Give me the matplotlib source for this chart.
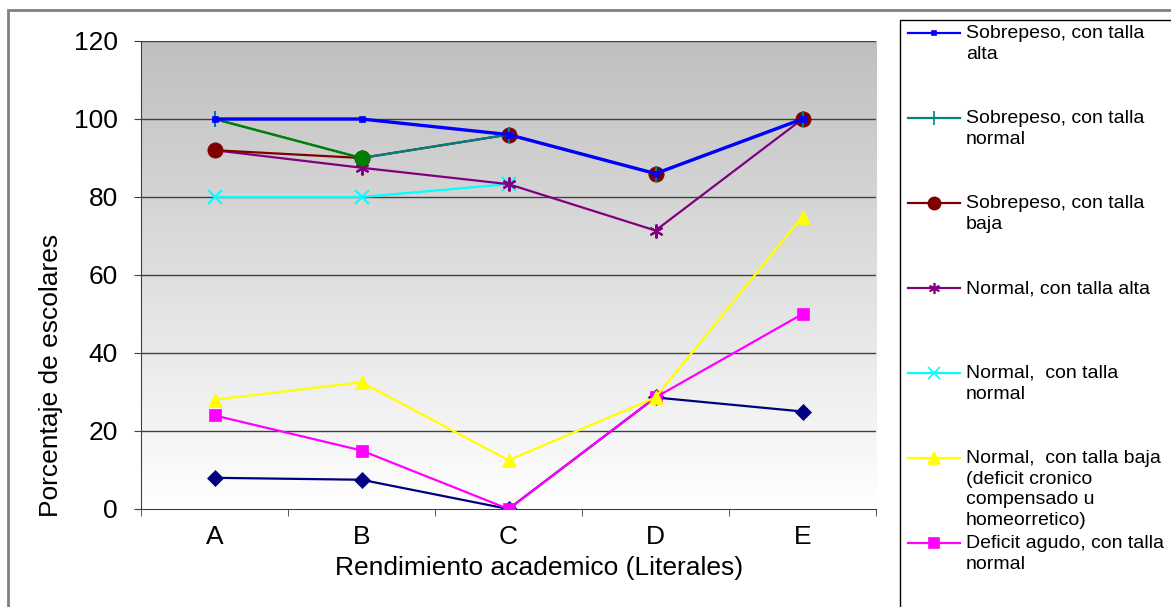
import numpy as np
import matplotlib
matplotlib.use("Agg")
from matplotlib import pyplot as plt
from matplotlib.lines import Line2D
from matplotlib.patches import Rectangle

plt.rcParams['font.family'] = ['Liberation Sans', 'DejaVu Sans']

categorias = ["A", "B", "C", "D", "E"]

sobrepeso_alta = [100, 100, 96, 86, 100]
sobrepeso_normal = [100, 90, 96, 86, 100]
sobrepeso_baja = [92, 90, 96, 86, 100]
normal_alta = [92, 87.5, 83.3, 71.4, 100]
normal_normal = [80, 80, 83.3, np.nan, np.nan]
normal_baja = [28, 32.5, 12.5, 28.6, 75]
deficit_agudo = [24, 15, 0, 28.6, 50]
deficit_otro = [8, 7.5, 0, 28.6, 25]
# tramo A-B resaltado en verde
tramo_verde = [100, 90, np.nan, np.nan, np.nan]

etiquetas = [
    "Sobrepeso, con talla\nalta",
    "Sobrepeso, con talla\nnormal",
    "Sobrepeso, con talla\nbaja",
    "Normal, con talla alta",
    "Normal,  con talla\nnormal",
    "Normal,  con talla baja\n(deficit cronico\ncompensado u\nhomeorretico)",
    "Deficit agudo, con talla\nnormal",
]

W, H = 1171, 607
fig = plt.figure(figsize=(W / 100, H / 100), dpi=100)

def fx(px):
    return px / W

def fy(py):
    return 1 - py / H

x0, x1, ytop, ybot = 141, 876, 41, 509
ax = fig.add_axes([fx(x0), fy(ybot), fx(x1 - x0), (ybot - ytop) / H])

# fondo degradado gris -> blanco
grad = np.linspace(0.75, 1.0, 256).reshape(-1, 1)
ax.imshow(np.dstack([grad, grad, grad]), extent=[0, 1, 0, 1], transform=ax.transAxes,
          aspect="auto", zorder=0, interpolation="bilinear")

x = np.arange(len(categorias))
series = [
    (normal_normal, "#00ffff", "x", 10, 1.6, 2),
    (normal_alta, "#800080", (6, 2, 0), 10, 1.6, 3),
    (sobrepeso_baja, "#800000", "o", 11, 1.6, 4),
    (sobrepeso_normal, "#008080", "|", 12, 1.6, 5),
    (sobrepeso_alta, "#0000ff", "s", 4, 2.4, 7),
    (deficit_otro, "#000080", "D", 8, 1.6, 2),
    (deficit_agudo, "#ff00ff", "s", 9, 1.6, 3),
    (normal_baja, "#ffff00", "^", 10, 1.6, 4),
]
for vals, col, mk, ms, lw, z in series:
    ax.plot(x, vals, color=col, marker=mk, markersize=ms, linewidth=lw,
            markeredgewidth=1.5 if mk in ("x", "|") or isinstance(mk, tuple) else 0.5,
            markeredgecolor=col, zorder=z)
ax.plot(x, tramo_verde, color="#008000", linewidth=1.6, marker="o", markersize=11,
        markevery=[1], markeredgewidth=0.5, zorder=6)

ax.set_xlim(-0.5, len(categorias) - 0.5)
ax.set_ylim(0, 120)
ax.set_yticks(range(0, 121, 20))
ax.set_xticks(x)
ax.set_xticklabels(categorias)
ax.set_xticks(np.arange(-0.5, len(categorias), 1), minor=True)
ax.tick_params(axis="x", which="major", length=0, labelsize=19, pad=11.5)
ax.tick_params(axis="x", which="minor", length=5, direction="out", color="#404040")
ax.tick_params(axis="y", length=5, direction="out", labelsize=19, pad=11.5, color="#404040")
for v in range(20, 121, 20):
    ax.axhline(v, color="#404040", linewidth=1, zorder=1)

for s in ("top", "right"):
    ax.spines[s].set_visible(False)
ax.spines["left"].set_color("#404040")
ax.spines["bottom"].set_color("#404040")

ax.set_xlabel("Rendimiento academico (Literales)", fontsize=19)
ax.set_ylabel("Porcentaje de escolares", fontsize=19)
ax.xaxis.set_label_coords((539 - x0) / (x1 - x0), (ybot - 556) / (ybot - ytop))
ax.yaxis.set_label_coords((63 - x0) / (x1 - x0), (ybot - 375) / (ybot - ytop))

# marco exterior y recuadro de la leyenda
fig.patches.append(Rectangle((fx(8), fy(640)), fx(1200), (640 - 10) / H, transform=fig.transFigure,
                             fill=False, edgecolor="#808080", linewidth=2))
fig.patches.append(Rectangle((fx(900), fy(640)), fx(400), (640 - 20) / H, transform=fig.transFigure,
                             fill=False, edgecolor="black", linewidth=1))

leyenda = [series[4], series[3], series[2], series[1], series[0], series[7], series[6]]
for i, ((vals, col, mk, ms, lw, z), txt) in enumerate(zip(leyenda, etiquetas)):
    yy = 33 + 85 * i
    fig.add_artist(Line2D([fx(908), fx(960)], [fy(yy), fy(yy)], color=col, linewidth=1.6,
                          transform=fig.transFigure))
    fig.add_artist(Line2D([fx(934)], [fy(yy)], color=col, marker=mk, markersize=ms * 0.8,
                          markeredgecolor=col, markeredgewidth=1.2, transform=fig.transFigure))
    fig.text(fx(966), fy(yy - 8), txt, fontsize=14, va="top", ha="left", linespacing=1.28)

fig.savefig("out.png", dpi=100)
